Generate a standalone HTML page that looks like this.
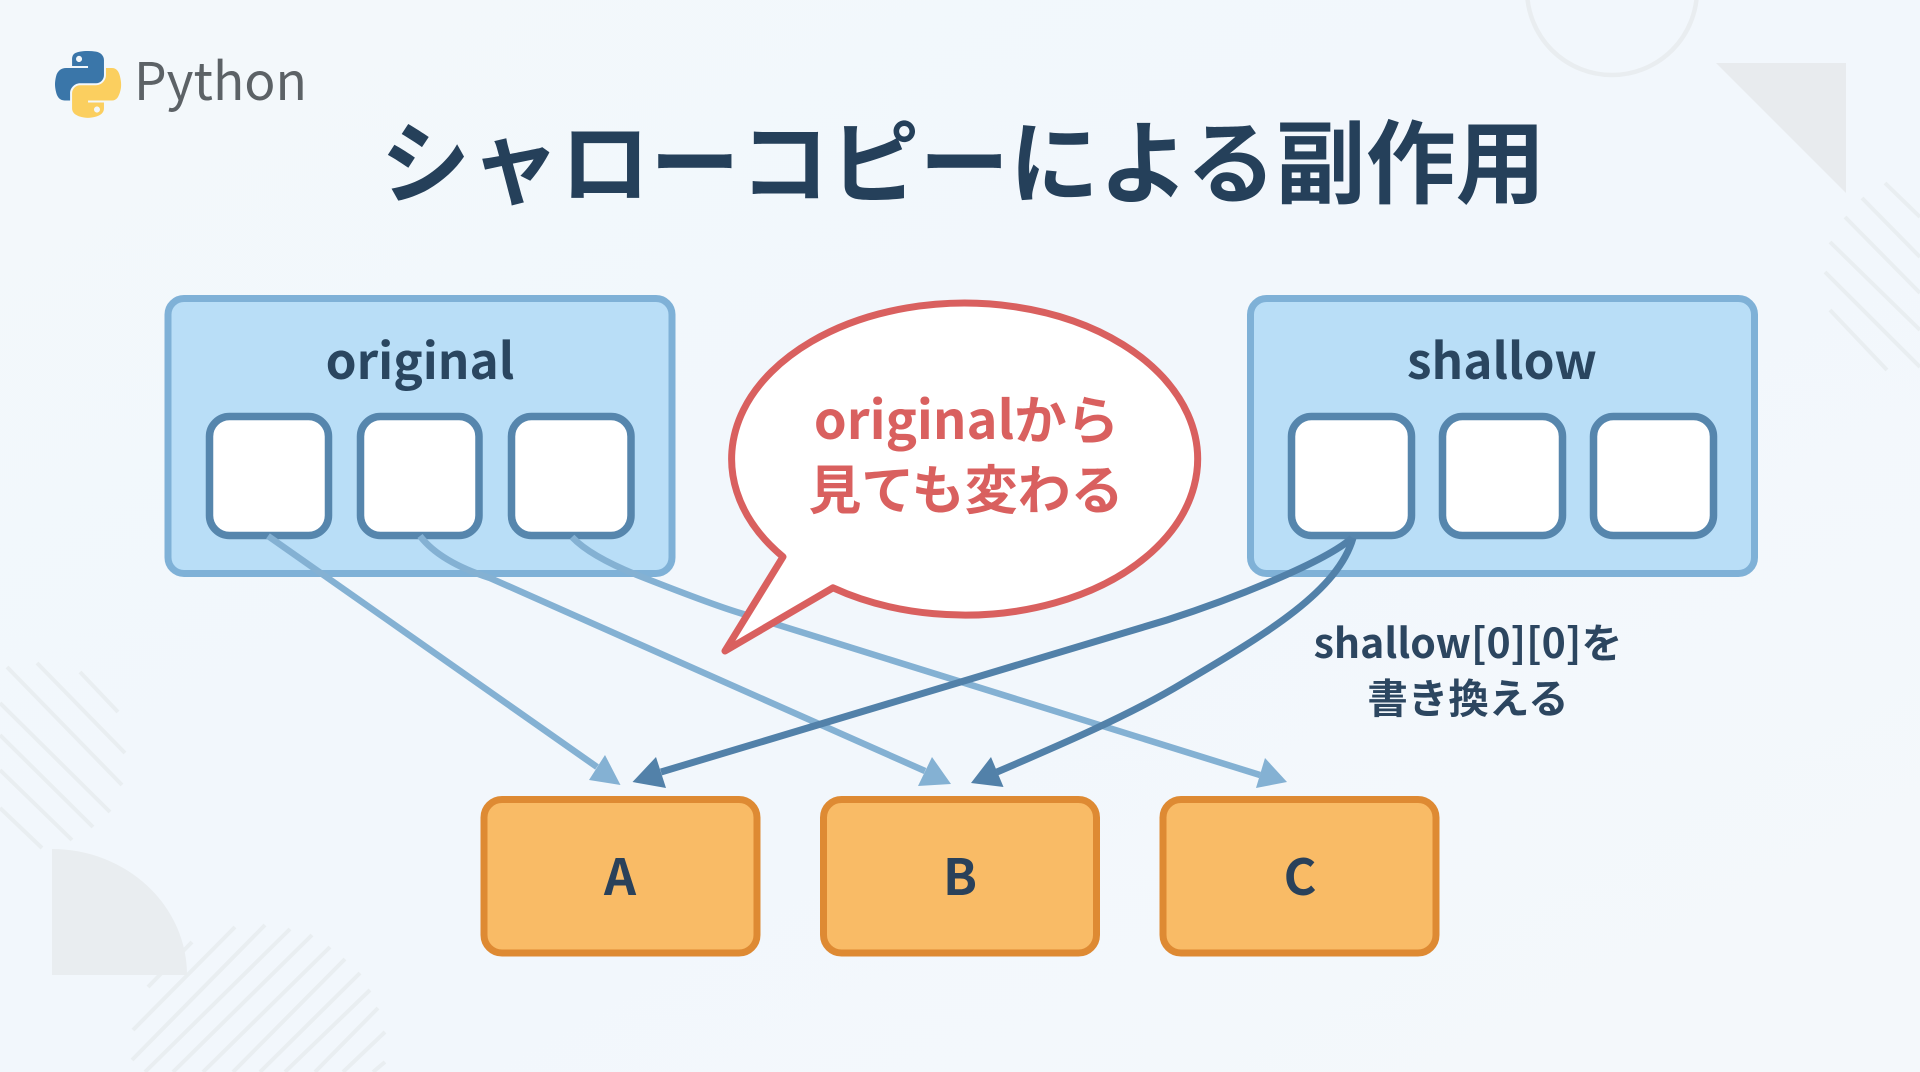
<!DOCTYPE html>
<html lang="ja"><head><meta charset="utf-8"><title>シャローコピーによる副作用</title>
<style>html,body{margin:0;padding:0;background:#f2f7fc;width:1920px;height:1072px;overflow:hidden}svg{display:block}
text{font-family:"Liberation Sans","Noto Sans CJK JP",sans-serif}
.j{font-family:"Noto Sans CJK JP","Liberation Sans",sans-serif;font-weight:700}
</style></head><body>
<svg width="1920" height="1072" viewBox="0 0 1920 1072" xmlns="http://www.w3.org/2000/svg">
<defs><linearGradient id="bg" x1="0" y1="0" x2="1" y2="1"><stop offset="0" stop-color="#f3f8fb"/><stop offset=".5" stop-color="#f2f7fc"/><stop offset="1" stop-color="#f4f8fb"/></linearGradient></defs>
<rect width="1920" height="1072" fill="url(#bg)"/>
<circle cx="1612" cy="-10" r="85" fill="none" stroke="#e9edf0" stroke-width="4.500"/>
<polygon points="1716,63 1846,63 1846,193" fill="#e8ebee"/>
<g stroke="#e9eef1" stroke-width="4" fill="none">
<path d="M1885 183L1920 217M1862 198L1920 257M1845 217L1920 293M1830 242L1920 330M1825 272L1920 367M1830 310L1887 370"/>
<path d="M37 663L125 753M7 667L122 785M80 672L118 712M0 703L110 812M0 735L93 827M0 770L72 840M0 808L42 848"/>
<path d="M148 987L192 942M133 1030L235 927M132 1060L265 925M145 1072L290 929M173 1072L312 935M203 1072L330 947M233 1072L345 959M260 1072L360 973M285 1072L370 990M315 1072L378 1008M343 1072L385 1032M373 1072L385 1062"/>
</g>
<path d="M52 849A135 126 0 0 1 187 975H52Z" fill="#e9edf0"/>
<g transform="translate(55,51) scale(.595)">
<path fill="#3a76a9" d="M54.919,0.001c-4.584,0.022-8.961,0.413-12.813,1.095C30.760,3.099,28.700,7.295,28.700,15.032v10.219h26.813v3.406H28.700h-10.062c-7.792,0-14.616,4.684-16.750,13.594c-2.462,10.213-2.571,16.586,0,27.250c1.906,7.938,6.458,13.594,14.250,13.594h9.219v-12.250c0-8.850,7.657-16.656,16.750-16.656h26.781c7.455,0,13.406-6.138,13.406-13.625v-25.531c0-7.266-6.130-12.725-13.406-13.937C64.282,0.328,59.502-0.020,54.919,0.001zM40.419,8.219c2.770,0,5.031,2.299,5.031,5.125c0,2.816-2.262,5.094-5.031,5.094c-2.780,0-5.031-2.277-5.031-5.094C35.387,10.518,37.638,8.219,40.419,8.219z"/>
<path fill="#fbcf5f" d="M85.638,28.657v11.906c0,9.231-7.826,17-16.750,17h-26.781c-7.336,0-13.406,6.278-13.406,13.625v25.531c0,7.266,6.319,11.540,13.406,13.625c8.487,2.496,16.626,2.947,26.781,0c6.750-1.954,13.406-5.888,13.406-13.625v-10.219h-26.781v-3.406h26.781h13.406c7.792,0,10.696-5.435,13.406-13.594c2.799-8.399,2.680-16.476,0-27.250c-1.926-7.757-5.604-13.594-13.406-13.594h-10.062zM70.575,93.313c2.780,0,5.031,2.277,5.031,5.094c0,2.826-2.252,5.125-5.031,5.125c-2.770,0-5.031-2.299-5.031-5.125C65.544,95.590,67.805,93.313,70.575,93.313z"/>
</g>
<text x="134" y="100" font-size="52" fill="#5c6266" style="font-family:'Noto Sans CJK JP','Liberation Sans',sans-serif" textLength="173" lengthAdjust="spacingAndGlyphs">Python</text>
<text class="j" x="963" y="196" font-size="91" fill="#25405a" text-anchor="middle" textLength="1165" lengthAdjust="spacingAndGlyphs">シャローコピーによる副作用</text>

<g fill="#b9def7" stroke="#7fb1d7" stroke-width="7">
<rect x="168" y="298.500" width="504" height="275" rx="16"/>
<rect x="1250.500" y="298.500" width="504" height="275" rx="16"/>
</g>
<g fill="#fff" stroke="#5686ad" stroke-width="7.500">
<rect x="209.500" y="416.500" width="119" height="119" rx="20"/>
<rect x="360.500" y="416.500" width="118.500" height="119" rx="20"/>
<rect x="511.500" y="416.500" width="119.500" height="119" rx="20"/>
<rect x="1291.500" y="416.500" width="120" height="119" rx="20"/>
<rect x="1442.500" y="416.500" width="120" height="119" rx="20"/>
<rect x="1593.500" y="416.500" width="120" height="119" rx="20"/>
</g>
<text class="j" x="420" y="379" font-size="49.500" fill="#2a4660" text-anchor="middle">original</text>
<text class="j" x="1502" y="379" font-size="49.500" fill="#2a4660" text-anchor="middle">shallow</text>

<g fill="none" stroke="#84b1d3" stroke-width="6.500">
<path d="M268 536L597 767"/>
<path d="M420 536Q440 562 490 578L925 771"/>
<path d="M572 537Q590 556 637 575C680 592 720 607 740 613L1260 775"/>
</g>
<g fill="#84b1d3">
<polygon points="620.500,785 605,755 589,780"/>
<polygon points="951,784 932,757 918,786"/>
<polygon points="1287,782 1265,758 1256,788"/>
</g>
<g fill="none" stroke="#5281a9" stroke-width="7">
<path d="M1352 538C1325 562 1235 598 1167 620L661 772"/>
<path d="M1353 538C1338 590 1270 632 1183 683C1130 715 1060 745 997 772"/>
</g>
<g fill="#5281a9">
<polygon points="632.500,782 656,757 666,788"/>
<polygon points="971,783 991,757 1003.500,787"/>
</g>

<path d="M783 556.800A233 156 0 1 1 833 587.800L725 651Z" fill="#fff" stroke="#d9605f" stroke-width="7" stroke-linejoin="round"/>
<text class="j" x="966.500" y="439" font-size="52.500" fill="#d9605f" text-anchor="middle">originalから</text>
<text class="j" x="966" y="509" font-size="53" fill="#d9605f" text-anchor="middle">見ても変わる</text>

<text class="j" x="1468" y="658" font-size="41" fill="#2c4660" text-anchor="middle">shallow[0][0]を</text>
<text class="j" x="1468" y="713" font-size="40.500" fill="#2c4660" text-anchor="middle">書き換える</text>

<g fill="#f9bb66" stroke="#de8a33" stroke-width="7">
<rect x="484" y="799.500" width="273" height="153.500" rx="18"/>
<rect x="823.500" y="799.500" width="273" height="153.500" rx="18"/>
<rect x="1163" y="799.500" width="273" height="153.500" rx="18"/>
</g>
<g class="j" font-size="50" fill="#2a415a" text-anchor="middle">
<text class="j" x="620" y="895">A</text>
<text class="j" x="960" y="895">B</text>
<text class="j" x="1300" y="895">C</text>
</g>
</svg>
</body></html>
